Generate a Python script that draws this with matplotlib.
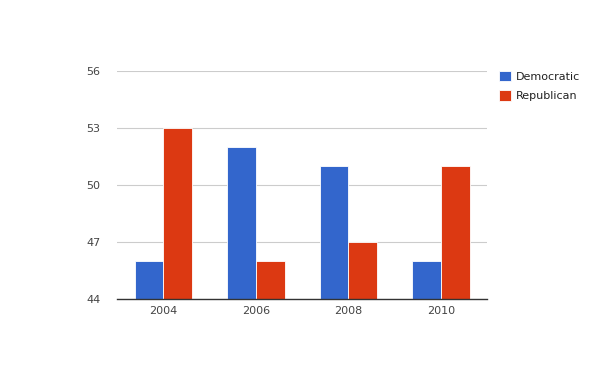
import matplotlib.pyplot as plt
import numpy as np

years = ["2004", "2006", "2008", "2010"]
democratic = [46, 52, 51, 46]
republican = [53, 46, 47, 51]
yticks = [44, 47, 50, 53, 56]

fig = plt.figure(figsize=(6, 3.71), dpi=100)
ax = fig.add_axes([0.195, 0.194, 0.617, 0.615])

x = np.arange(len(years))
w = 0.31
ax.bar(x - w/2, np.array(democratic) - 44, w, bottom=44, color="#3366cc",
       edgecolor="white", linewidth=0.6, label="Democratic", zorder=3)
ax.bar(x + w/2, np.array(republican) - 44, w, bottom=44, color="#dc3912",
       edgecolor="white", linewidth=0.6, label="Republican", zorder=3)

ax.set_xlim(-0.5, len(years) - 0.5)
ax.set_ylim(44, 56)
ax.set_yticks(yticks)
ax.set_xticks(x)
ax.set_xticklabels(years)
ax.tick_params(length=0, labelsize=8, colors="#444444")
ax.tick_params(axis="y", pad=12)
ax.tick_params(axis="x", pad=5)
ax.grid(axis="y", color="#cccccc", linewidth=0.8, zorder=0)
for s in ["top", "right", "left"]:
    ax.spines[s].set_visible(False)
ax.spines["bottom"].set_color("#333333")
ax.spines["bottom"].set_linewidth(1)
ax.spines["bottom"].set_zorder(4)

ax.legend(loc="upper left", bbox_to_anchor=(1.005, 1.045), frameon=False,
          fontsize=8, handlelength=1.1, handleheight=1.1, handletextpad=0.4,
          labelspacing=0.75, labelcolor="#222222")

fig.savefig("out.png", dpi=100)
